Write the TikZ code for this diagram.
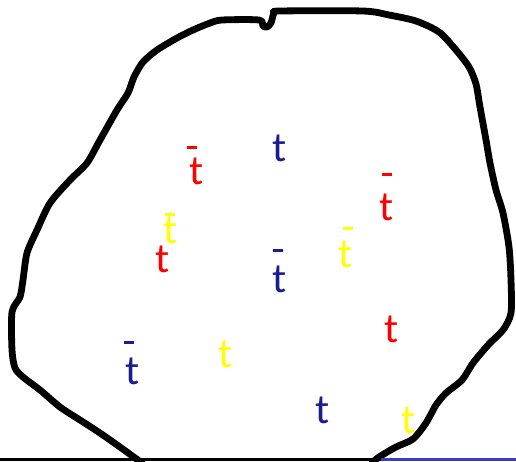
\documentclass[tikz,border=0pt]{standalone}
\usepackage{fontspec}
\newfontfamily\tfont{Carlito}
\definecolor{tred}{RGB}{255,0,0}
\definecolor{tblue}{RGB}{28,28,145}
\definecolor{tyellow}{RGB}{255,255,0}
\definecolor{lineblue}{RGB}{60,60,190}
\begin{document}
\begin{tikzpicture}[x=1pt,y=-1pt,
  tl/.style={inner sep=0pt, font=\tfont\fontsize{42}{50}\selectfont},
  barmark/.style={inner sep=0pt, minimum width=10pt, minimum height=3pt, draw=none}]
\useasboundingbox (0,0) rectangle (516,461);
% outline
\draw[line width=6.8pt, line join=round, line cap=round]
  plot[smooth, tension=0.45] coordinates {
  (142,463) (120,447) (100,433) (80,420) (60,407) (40,390) (23,377) (15,368)
  (12,350) (12,312) (20,297) (23,280) (27,253) (37,230) (50,203) (70,180)
  (87,163) (100,140) (117,110) (128,93) (134,77) (143,62) (157,50) (177,38)
  (193,30) (210,23) (222,20) (259,20) (263,26) (267,27) (271,23) (274,13)
  (280,11) (363,11) (389,15) (416,21) (439,32) (456,50) (469,67) (476,84)
  (480,107) (486,140) (490,163) (496,190) (503,213) (509,247) (511,280)
  (511,313) (503,330) (489,344) (473,363) (462,380) (446,393) (436,405)
  (426,423) (413,439) (396,447) (379,457) (372,463)};
% bottom lines
\coordinate (bl0) at (0,459.7);
\coordinate (bl1) at (381,459.7);
\coordinate (bl2) at (516,459.7);
\draw[line width=2.8pt] (bl0) -- (bl1);
\draw[line width=2.8pt, lineblue] (bl1) -- (bl2);
% letters
\node[tl, text=tred]    (t1)  at (196.5,171) {t};
\node[tl, text=tblue]   (t2)  at (279.5,148.5) {t};
\node[tl, text=tyellow] (t3)  at (170.5,230.5) {t};
\node[tl, text=tred]    (t4)  at (162.5,259.5) {t};
\node[tl, text=tblue]   (t5)  at (279.5,279) {t};
\node[tl, text=tred]    (t6)  at (386.5,207.5) {t};
\node[tl, text=tyellow] (t7)  at (346,254.5) {t};
\node[tl, text=tblue]   (t8)  at (132.5,371.5) {t};
\node[tl, text=tyellow] (t9)  at (225.5,354.5) {t};
\node[tl, text=tred]    (t10) at (391.5,329) {t};
\node[tl, text=tblue]   (t11) at (322.5,410.5) {t};
\node[tl, text=tyellow] (t12) at (409,420.5) {t};
% overbars
\node[barmark, fill=tred]    (b1) at (192,147.5) {};
\node[barmark, fill=tyellow] (b3) at (170,214) {};
\node[barmark, fill=tblue]   (b5) at (278,250) {};
\node[barmark, fill=tred]    (b6) at (387,174.5) {};
\node[barmark, fill=tyellow] (b7) at (347.5,228.5) {};
\node[barmark, fill=tblue]   (b8) at (129,342) {};
\end{tikzpicture}
\end{document}
